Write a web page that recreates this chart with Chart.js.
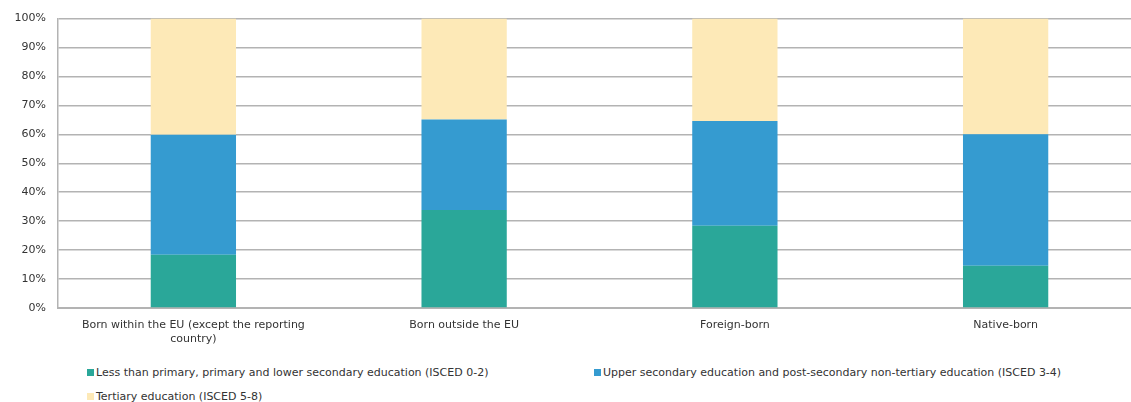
<!DOCTYPE html>
<html>
<head>
<meta charset="utf-8">
<script src="https://cdn.jsdelivr.net/npm/chart.js@4"></script>
<style>
  html, body { margin: 0; padding: 0; background: #fff; overflow: hidden; }
  #wrap { position: relative; width: 1141px; height: 402px; }
  #box { position: absolute; left: 0; top: 0; width: 1141px; height: 350px; }
  .leg { position: absolute; font: 11px "DejaVu Sans", Verdana, sans-serif; color: #333; white-space: nowrap; }
  .leg i { display: inline-block; width: 7px; height: 7px; margin-right: 2px; vertical-align: 0px; }
</style>
</head>
<body>
<div id="wrap">
  <div id="box"><canvas id="chart"></canvas></div>
  <div id="legend"></div>
</div>
<script>
// data
const categories = [
  ['Born within the EU (except the reporting', 'country)'],
  'Born outside the EU',
  'Foreign-born',
  'Native-born'
];
const seriesNames = [
  'Less than primary, primary and lower secondary education (ISCED 0-2)',
  'Upper secondary education and post-secondary non-tertiary education (ISCED 3-4)',
  'Tertiary education (ISCED 5-8)'
];
const lowerSecondary = [18.4, 33.9, 28.4, 14.6];
const upperSecondary = [41.5, 31.2, 36.2, 45.4];
const tertiary = [40.1, 34.9, 35.4, 40.0];
const colors = ['#2aa799', '#359bd0', '#fde9b7'];

const font = { family: '"DejaVu Sans", Verdana, sans-serif', size: 11 };

const ctx = document.getElementById('chart').getContext('2d');
const chart = new Chart(ctx, {
  type: 'bar',
  data: {
    labels: categories,
    datasets: [lowerSecondary, upperSecondary, tertiary].map((d, i) => ({
      label: seriesNames[i],
      data: d,
      backgroundColor: colors[i],
      borderWidth: 0,
      barPercentage: 0.63,
      categoryPercentage: 0.5
    }))
  },
  options: {
    responsive: true,
    maintainAspectRatio: false,
    animation: false,
    layout: { padding: { top: 18, right: 0, bottom: 0, left: 0 } },
    plugins: {
      legend: { display: false },
      tooltip: { enabled: false }
    },
    scales: {
      x: {
        stacked: true,
        grid: { display: false, drawTicks: false },
        border: { color: '#b3b3b3', width: 2 },
        ticks: { color: '#333', font: font, padding: 11, maxRotation: 0, autoSkip: false },
        afterFit: (s) => { s.height = 42; }
      },
      y: {
        stacked: true,
        min: 0,
        max: 100,
        grid: { color: '#b3b3b3', lineWidth: 1.5, drawTicks: false },
        border: { color: '#b3b3b3', width: 1.5 },
        ticks: {
          stepSize: 10,
          color: '#333',
          font: font,
          padding: 12,
          callback: (v) => v + '%'
        },
        afterFit: (s) => { s.width = 58; }
      }
    }
  }
});

// legend laid out like the original (two columns, rows left aligned)
const legendPos = [[87, 366], [594, 366], [87, 390]];
const legendEl = document.getElementById('legend');
seriesNames.forEach((name, i) => {
  const d = document.createElement('div');
  d.className = 'leg';
  d.style.left = legendPos[i][0] + 'px';
  d.style.top = legendPos[i][1] + 'px';
  d.innerHTML = '<i style="background:' + colors[i] + '"></i>' + name;
  legendEl.appendChild(d);
});
</script>
</body>
</html>
